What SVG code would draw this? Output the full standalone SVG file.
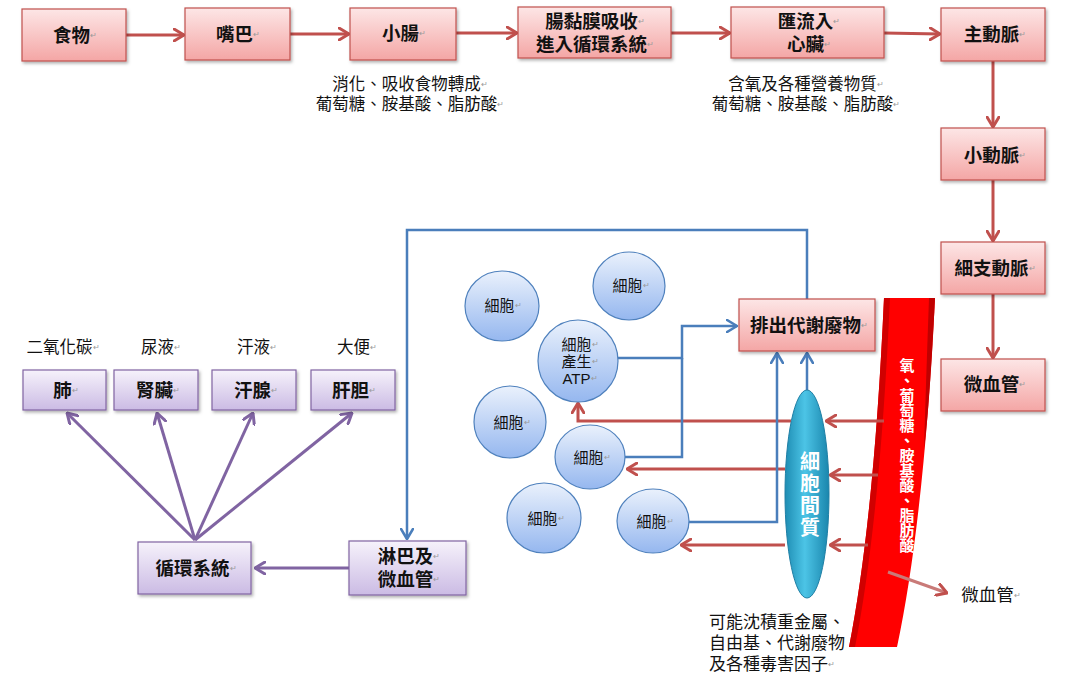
<svg xmlns="http://www.w3.org/2000/svg" width="1068" height="676" viewBox="0 0 1068 676">
<style>
  text { font-family: "Liberation Sans", "Noto Sans CJK TC", sans-serif; fill: #111; }
  .lbl { font-size: 18.5px; font-weight: 700; text-anchor: middle; dominant-baseline: central; }
  .cell { font-size: 15px; text-anchor: middle; dominant-baseline: central; }
  .note { font-size: 16.5px; text-anchor: middle; dominant-baseline: central; }
  .notel { font-size: 17px; dominant-baseline: central; }
  .pm { font-size: 8px; fill: #999; font-weight: 400; }
  .pink { fill: url(#gPink); stroke: #c0504d; stroke-width: 1.2; filter: url(#sh); }
  .purp { fill: url(#gPurp); stroke: #8064a2; stroke-width: 1.2; filter: url(#sh); }
  .cellc { fill: url(#gCell); stroke: #4f81bd; stroke-width: 1.2; }
  .red { fill: none; stroke: #c0504d; stroke-width: 3; }
  .blue { fill: none; stroke: #4a7ebb; stroke-width: 2.5; }
  .pl { fill: none; stroke: #8064a2; stroke-width: 3; }
  .vt { font-family: "Noto Sans CJK TC", sans-serif; font-size: 15px; fill: #fff; font-weight: 700; writing-mode: vertical-rl; }
  .it { font-family: "Noto Sans CJK TC", sans-serif; font-size: 20px; fill: #fff; font-weight: 700; writing-mode: vertical-rl; letter-spacing: 2px; }
</style>
<defs>
  <linearGradient id="gPink" x1="0" y1="0" x2="0" y2="1">
    <stop offset="0" stop-color="#fde6e6"/>
    <stop offset="1" stop-color="#f4a6a5"/>
  </linearGradient>
  <linearGradient id="gPurp" x1="0" y1="0" x2="0" y2="1">
    <stop offset="0" stop-color="#f6f2fb"/>
    <stop offset="1" stop-color="#cbbbe4"/>
  </linearGradient>
  <linearGradient id="gCell" x1="0" y1="0" x2="0" y2="1">
    <stop offset="0" stop-color="#eaf1fc"/>
    <stop offset="1" stop-color="#95b7ef"/>
  </linearGradient>
  <linearGradient id="gTeal" x1="0" y1="0" x2="1" y2="0">
    <stop offset="0" stop-color="#1e8db3"/>
    <stop offset="0.45" stop-color="#4cc4e6"/>
    <stop offset="1" stop-color="#1a86ad"/>
  </linearGradient>
  <filter id="sh" x="-10%" y="-10%" width="125%" height="135%">
    <feDropShadow dx="1.5" dy="2" stdDeviation="1.5" flood-color="#000" flood-opacity="0.3"/>
  </filter>
  <marker id="aR" viewBox="0 0 12 14" refX="11" refY="7" markerWidth="12" markerHeight="14" markerUnits="userSpaceOnUse" orient="auto">
    <path d="M1,1 L11,7 L1,13" fill="none" stroke="#c0504d" stroke-width="3" stroke-linecap="round" stroke-linejoin="round"/>
  </marker>
  <marker id="aB" viewBox="0 0 12 14" refX="11" refY="7" markerWidth="12" markerHeight="14" markerUnits="userSpaceOnUse" orient="auto">
    <path d="M1,1 L11,7 L1,13" fill="none" stroke="#4a7ebb" stroke-width="2.6" stroke-linecap="round" stroke-linejoin="round"/>
  </marker>
  <marker id="aP" viewBox="0 0 12 14" refX="11" refY="7" markerWidth="12" markerHeight="14" markerUnits="userSpaceOnUse" orient="auto">
    <path d="M1,1 L11,7 L1,13" fill="none" stroke="#8064a2" stroke-width="3" stroke-linecap="round" stroke-linejoin="round"/>
  </marker>
</defs>
<rect width="1068" height="676" fill="#fff"/>

<!-- blood vessel -->
<g id="vessel">
  <path d="M884,298 L935,298 Q924,520 897,647 L849,647 Q874,520 884,298 Z" fill="#ff0000"/>
  <path d="M884,298 L890,298 Q880,520 855,647 L849,647 Q874,520 884,298 Z" fill="#d00000"/>
  <path d="M929,298 L935,298 Q930,400 924,450 Q926,380 929,298 Z" fill="#c00000"/>
  <text class="vt" x="907" y="358">氧、葡萄糖、胺基酸、脂肪酸</text>
</g>

<g id="connectors">
  <!-- top row -->
  <path class="red" d="M126,35 L184,35" marker-end="url(#aR)"/>
  <path class="red" d="M290,34 L349,34" marker-end="url(#aR)"/>
  <path class="red" d="M456,33 L517,33" marker-end="url(#aR)"/>
  <path class="red" d="M671,33 L730,33" marker-end="url(#aR)"/>
  <path class="red" d="M884,33 L940,34" marker-end="url(#aR)"/>
  <!-- vertical chain -->
  <path class="red" d="M993,61 L993,127" marker-end="url(#aR)"/>
  <path class="red" d="M993,180 L993,241" marker-end="url(#aR)"/>
  <path class="red" d="M993,294 L993,358" marker-end="url(#aR)"/>
  <!-- vessel to interstitium -->
  <path class="red" d="M884,421 L826,421" marker-end="url(#aR)"/>
  <path class="red" d="M878,475 L830,475" marker-end="url(#aR)"/>
  <path class="red" d="M868,545 L830,545" marker-end="url(#aR)"/>
  <!-- interstitium to cells -->
  <path class="red" d="M791,421 L578,421 L578,403" marker-end="url(#aR)"/>
  <path class="red" d="M785,469 L627,469" marker-end="url(#aR)"/>
  <path class="red" d="M785,545 L681,545" marker-end="url(#aR)"/>
  <!-- vessel to 微血管 -->
  <path d="M888,572 L947,593" fill="none" stroke="#c97a78" stroke-width="3" marker-end="url(#aR)"/>
  <!-- blue waste lines -->
  <path class="blue" d="M618,358 L682,358 L682,326 L737,326" marker-end="url(#aB)"/>
  <path class="blue" d="M625,457 L682,457 L682,358"/>
  <path class="blue" d="M688,522 L777,522 L777,353" marker-end="url(#aB)"/>
  <path class="blue" d="M807,390 L807,353" marker-end="url(#aB)"/>
  <path class="blue" d="M807,299 L807,230 L407,230 L407,539" marker-end="url(#aB)"/>
  <!-- purple -->
  <path class="pl" d="M349,568 L255,568" marker-end="url(#aP)"/>
  <path class="pl" d="M195,540 L67,413" marker-end="url(#aP)"/>
  <path class="pl" d="M195,540 L157,413" marker-end="url(#aP)"/>
  <path class="pl" d="M195,540 L253,413" marker-end="url(#aP)"/>
  <path class="pl" d="M195,540 L352,413" marker-end="url(#aP)"/>
</g>

<!-- top row -->
<g id="food"><rect class="pink" x="22" y="9" width="104" height="52"/><text class="lbl" x="75" y="35">食物<tspan class="pm">↵</tspan></text></g>
<g id="mouth"><rect class="pink" x="185" y="8" width="105" height="52"/><text class="lbl" x="238" y="34">嘴巴<tspan class="pm">↵</tspan></text></g>
<g id="intestine"><rect class="pink" x="350" y="8" width="106" height="52"/><text class="lbl" x="404" y="33">小腸<tspan class="pm">↵</tspan></text></g>
<g id="mucosa"><rect class="pink" x="518" y="7" width="153" height="51"/>
  <text class="lbl"><tspan x="595" y="21">腸黏膜吸收<tspan class="pm">↵</tspan></tspan><tspan x="595" y="44">進入循環系統<tspan class="pm">↵</tspan></tspan></text></g>
<g id="heart"><rect class="pink" x="731" y="7" width="153" height="51"/>
  <text class="lbl"><tspan x="809" y="21">匯流入<tspan class="pm">↵</tspan></tspan><tspan x="809" y="44">心臟<tspan class="pm">↵</tspan></tspan></text></g>
<g id="aorta"><rect class="pink" x="941" y="8" width="104" height="53"/><text class="lbl" x="995" y="34">主動脈<tspan class="pm">↵</tspan></text></g>
<g id="artery"><rect class="pink" x="941" y="128" width="104" height="52"/><text class="lbl" x="995" y="155">小動脈<tspan class="pm">↵</tspan></text></g>
<g id="arteriole"><rect class="pink" x="941" y="242" width="104" height="52"/><text class="lbl" x="995" y="268">細支動脈<tspan class="pm">↵</tspan></text></g>
<g id="capillary"><rect class="pink" x="941" y="359" width="104" height="52"/><text class="lbl" x="995" y="384">微血管<tspan class="pm">↵</tspan></text></g>

<g id="note1"><text class="note"><tspan x="410" y="84">消化、吸收食物轉成<tspan class="pm">↵</tspan></tspan><tspan x="410" y="104">葡萄糖、胺基酸、脂肪酸<tspan class="pm">↵</tspan></tspan></text></g>
<g id="note2"><text class="note"><tspan x="806" y="84">含氧及各種營養物質<tspan class="pm">↵</tspan></tspan><tspan x="806" y="104">葡萄糖、胺基酸、脂肪酸<tspan class="pm">↵</tspan></tspan></text></g>

<!-- excretion organs -->
<g id="lung"><text class="note" x="63" y="347">二氧化碳<tspan class="pm">↵</tspan></text><rect class="purp" x="23" y="370" width="83" height="40"/><text class="lbl" x="66" y="390">肺<tspan class="pm">↵</tspan></text></g>
<g id="kidney"><text class="note" x="161" y="347">尿液<tspan class="pm">↵</tspan></text><rect class="purp" x="114" y="370" width="84" height="40"/><text class="lbl" x="158" y="390">腎臟<tspan class="pm">↵</tspan></text></g>
<g id="sweat"><text class="note" x="257" y="347">汗液<tspan class="pm">↵</tspan></text><rect class="purp" x="212" y="370" width="84" height="40"/><text class="lbl" x="256" y="390">汗腺<tspan class="pm">↵</tspan></text></g>
<g id="liver"><text class="note" x="357" y="347">大便<tspan class="pm">↵</tspan></text><rect class="purp" x="311" y="370" width="84" height="40"/><text class="lbl" x="354" y="390">肝胆<tspan class="pm">↵</tspan></text></g>
<g id="circ"><rect class="purp" x="138" y="542" width="113" height="52"/><text class="lbl" x="196" y="568">循環系統<tspan class="pm">↵</tspan></text></g>
<g id="lymph"><rect class="purp" x="349" y="541" width="117" height="54"/>
  <text class="lbl"><tspan x="409" y="556">淋巴及<tspan class="pm">↵</tspan></tspan><tspan x="409" y="579">微血管<tspan class="pm">↵</tspan></tspan></text></g>

<!-- waste box -->
<g id="waste"><rect class="pink" x="739" y="299" width="136" height="52"/><text class="lbl" x="809" y="325">排出代謝廢物<tspan class="pm">↵</tspan></text></g>

<!-- cells -->
<g id="cell1"><ellipse class="cellc" cx="502" cy="306" rx="37" ry="35"/><text class="cell" x="503" y="305">細胞<tspan class="pm">↵</tspan></text></g>
<g id="cell2"><ellipse class="cellc" cx="629" cy="286" rx="36" ry="34"/><text class="cell" x="631" y="285">細胞<tspan class="pm">↵</tspan></text></g>
<g id="cellATP"><ellipse class="cellc" cx="578" cy="361" rx="40" ry="41"/>
  <text class="cell"><tspan x="580" y="344">細胞<tspan class="pm">↵</tspan></tspan><tspan x="580" y="361">產生<tspan class="pm">↵</tspan></tspan><tspan x="580" y="378">ATP<tspan class="pm">↵</tspan></tspan></text></g>
<g id="cell3"><ellipse class="cellc" cx="510" cy="422" rx="36" ry="36"/><text class="cell" x="512" y="422">細胞<tspan class="pm">↵</tspan></text></g>
<g id="cell4"><ellipse class="cellc" cx="590" cy="457" rx="35" ry="32"/><text class="cell" x="592" y="457">細胞<tspan class="pm">↵</tspan></text></g>
<g id="cell5"><ellipse class="cellc" cx="544" cy="518" rx="37" ry="35"/><text class="cell" x="546" y="518">細胞<tspan class="pm">↵</tspan></text></g>
<g id="cell6"><ellipse class="cellc" cx="653" cy="521" rx="36" ry="32"/><text class="cell" x="655" y="521">細胞<tspan class="pm">↵</tspan></text></g>

<!-- interstitium -->
<g id="interstitium"><ellipse cx="807" cy="494" rx="22" ry="104" fill="url(#gTeal)" stroke="#1f7fa5" stroke-width="1"/>
  <text class="it" x="810" y="451">細胞間質</text></g>

<g id="capLabel"><text class="note" x="991" y="595" style="font-size:17.5px">微血管<tspan class="pm">↵</tspan></text></g>

<g id="note3">
  <text class="notel"><tspan x="709" y="622">可能沈積重金屬、</tspan><tspan x="709" y="643">自由基、代謝廢物</tspan><tspan x="709" y="664">及各種毒害因子<tspan class="pm">↵</tspan></tspan></text>
</g>
</svg>
